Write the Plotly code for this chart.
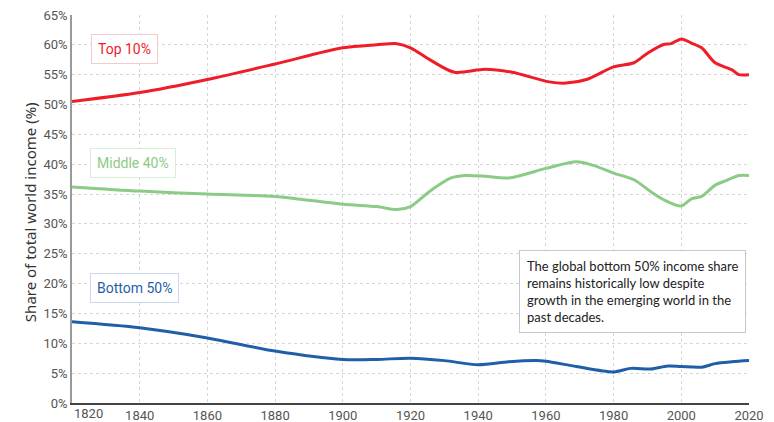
import plotly.graph_objects as go

top_years = [1820,1840,1860,1880,1900,1910,1916,1920,1926,1933,1942,1950,1961,1966,1972,1980,1986,1990,1995,1997,2000,2003,2006,2010,2015,2017,2020]
top_vals = [50.5,52.0,54.2,56.8,59.5,60.0,60.2,59.5,57.4,55.4,55.9,55.4,53.8,53.6,54.2,56.3,57.0,58.6,60.1,60.2,61.0,60.3,59.5,57.0,55.8,55.0,55.0]

mid_years = [1820,1840,1860,1880,1900,1910,1916,1920,1926,1932,1936,1942,1949,1960,1969,1974,1980,1986,1991,1995,2000,2003,2006,2010,2013,2017,2020]
mid_vals = [36.2,35.5,35.0,34.6,33.3,32.9,32.4,32.9,35.6,37.7,38.1,38.0,37.7,39.3,40.4,39.8,38.5,37.4,35.4,34.0,33.0,34.2,34.6,36.5,37.2,38.1,38.1]

bot_years = [1820,1840,1860,1880,1900,1910,1920,1930,1940,1949,1957,1960,1969,1980,1985,1991,1996,2000,2006,2010,2015,2020]
bot_vals = [13.6,12.6,10.9,8.7,7.3,7.3,7.5,7.1,6.4,6.9,7.1,7.0,6.1,5.2,5.8,5.7,6.2,6.1,6.0,6.6,6.9,7.1]

x_ticks = [1820,1840,1860,1880,1900,1920,1940,1960,1980,2000,2020]
x_tick_labels = [str(v) for v in x_ticks]
y_ticks = list(range(0, 66, 5))
y_tick_labels = [f"{v}%" for v in y_ticks]

RED = "#ee1d27"
GREEN = "#8ccb85"
BLUE = "#1f5fa8"
TICK_FONT = dict(family="Roboto", size=13, color="#555")

fig = go.Figure()
for xs, ys, c in [(top_years, top_vals, RED), (mid_years, mid_vals, GREEN), (bot_years, bot_vals, BLUE)]:
    fig.add_trace(go.Scatter(x=xs, y=ys, mode="lines", line=dict(color=c, width=3, shape="spline", smoothing=0.8),
                             hoverinfo="skip", showlegend=False))

for text, x, y, c, bc in [("Top 10%", 1835.4, 59.3, RED, "#f8c9cb"),
                          ("Middle 40%", 1838.0, 40.2, GREEN, "#d9eed6"),
                          ("Bottom 50%", 1838.6, 19.3, BLUE, "#c9d8ec")]:
    fig.add_annotation(x=x, y=y, text=text, showarrow=False, font=dict(family="Roboto", size=14, color=c),
                       bgcolor="white", bordercolor=bc, borderwidth=1, borderpad=6)

fig.add_annotation(x=1952, y=25.6, xanchor="left", yanchor="top", align="left", showarrow=False,
                   text="The global bottom 50% income share<br>remains historically low despite<br>growth in the emerging world in the<br>past decades.",
                   font=dict(family="Lato", size=13, color="#222"),
                   bgcolor="white", bordercolor="#c8c8c8", borderwidth=1, borderpad=7)

fig.add_annotation(xref="paper", yref="paper", x=-0.062, y=0.492, xanchor="center", yanchor="middle",
                   text="Share of total world income (%)",
                   textangle=-90, showarrow=False, font=dict(family="Noto Sans", size=15, color="#333"))

# first x label sits right of the axis start, as in the reference
fig.add_annotation(x=x_ticks[0], xref="x", yref="paper", y=0, xanchor="left", yanchor="top", yshift=-1,
                   text=x_tick_labels[0], showarrow=False, font=TICK_FONT)

fig.update_layout(
    width=766, height=414,
    margin=dict(l=64, r=25, t=7, b=19),
    plot_bgcolor="white", paper_bgcolor="white",
    font=dict(family="Roboto", size=13, color="#555"),
    xaxis=dict(range=[1820, 2020], tickvals=x_ticks, ticktext=[""] + x_tick_labels[1:], showgrid=True,
               gridcolor="#d6d6d6", griddash="dot",
               gridwidth=1, showline=True, linecolor="#444", linewidth=1.5, zeroline=False, ticks="",
               tickfont=TICK_FONT, automargin=False, ticklabeloverflow="allow"),
    yaxis=dict(range=[0, 65], tickvals=y_ticks, ticktext=y_tick_labels, showgrid=True, gridcolor="#d6d6d6",
               griddash="dot", gridwidth=1, showline=True, linecolor="#999", linewidth=1.5, zeroline=False,
               ticks="", tickfont=TICK_FONT, automargin=False, ticklabeloverflow="allow"),
)

fig.write_html("out.html")
